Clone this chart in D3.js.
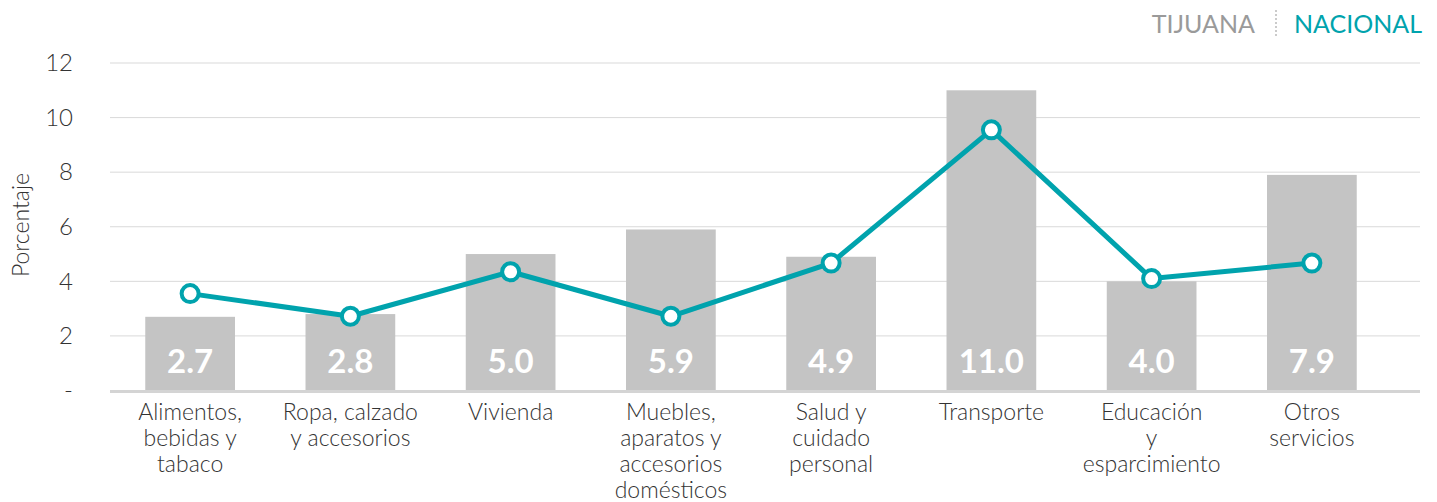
<!DOCTYPE html>
<html lang='es'>
	<head>
		<meta charset='utf-8'>
		<title>Tijuana vs Nacional</title>
		<script type='text/javascript' src='https://cdn.jsdelivr.net/npm/d3@7'></script>
		<style>
			body { margin: 0; background: #fff; font-family: Lato, sans-serif; }
		</style>
	</head>
	<body>
		<script type='text/javascript'>
			var categories = [
				['Alimentos,', 'bebidas y', 'tabaco'],
				['Ropa, calzado', 'y accesorios'],
				['Vivienda'],
				['Muebles,', 'aparatos y', 'accesorios', 'domésticos'],
				['Salud y', 'cuidado', 'personal'],
				['Transporte'],
				['Educación', 'y', 'esparcimiento'],
				['Otros', 'servicios']
			];
			var tijuana = [2.7, 2.8, 5.0, 5.9, 4.9, 11.0, 4.0, 7.9];
			var nacional = [3.55, 2.72, 4.35, 2.72, 4.67, 9.55, 4.1, 4.67];
			var yTicks = [0, 2, 4, 6, 8, 10, 12];
			var legendLabels = ['TIJUANA', 'NACIONAL'];

			var width = 1437, height = 502;
			var teal = '#00a3ad', barGray = '#c4c4c4';
			var svg = d3.select('body').append('svg').attr('width', width).attr('height', height);

			var x = d3.scaleBand().domain(d3.range(categories.length)).range([110, 1392]).paddingInner(0.44).paddingOuter(0.22);
			var y = d3.scaleLinear().domain([0, 12]).range([390.5, 63]);

			// grid lines
			svg.append('g').selectAll('line').data(yTicks.filter(d => d > 0)).enter().append('line')
				.attr('x1', 110).attr('x2', 1420)
				.attr('y1', d => y(d)).attr('y2', d => y(d))
				.attr('stroke', '#d9d9d9').attr('stroke-width', 1);

			// y axis labels
			var yAxis = d3.axisLeft(y).tickValues(yTicks).tickSize(0).tickPadding(0)
				.tickFormat(d => d === 0 ? '-' : d);
			svg.append('g').attr('transform', 'translate(73,0)').call(yAxis)
				.call(g => g.select('.domain').remove())
				.selectAll('text')
				.attr('font-family', 'Lato').attr('font-weight', 300)
				.attr('font-size', 24).attr('fill', '#333');

			svg.append('text')
				.attr('transform', 'translate(29,225) rotate(-90)')
				.attr('text-anchor', 'middle')
				.attr('font-family', 'Lato').attr('font-weight', 300)
				.attr('font-size', 23).attr('fill', '#333')
				.text('Porcentaje');

			// bars
			svg.append('g').selectAll('rect').data(tijuana).enter().append('rect')
				.attr('x', (d, i) => x(i))
				.attr('y', d => y(d))
				.attr('width', x.bandwidth())
				.attr('height', d => y(0) - y(d))
				.attr('fill', barGray);

			svg.append('g').selectAll('text').data(tijuana).enter().append('text')
				.attr('x', (d, i) => x(i) + x.bandwidth() / 2)
				.attr('y', 373)
				.attr('text-anchor', 'middle')
				.attr('font-family', 'Lato').attr('font-weight', 700)
				.attr('font-size', 33).attr('fill', '#fff')
				.text(d => d.toFixed(1));

			// baseline
			svg.append('line')
				.attr('x1', 110).attr('x2', 1420)
				.attr('y1', y(0) + 1).attr('y2', y(0) + 1)
				.attr('stroke', '#d4d4d4').attr('stroke-width', 3);

			// line series
			var line = d3.line().x((d, i) => x(i) + x.bandwidth() / 2).y(d => y(d));
			svg.append('path').datum(nacional)
				.attr('d', line)
				.attr('fill', 'none').attr('stroke', teal).attr('stroke-width', 5)
				.attr('stroke-linejoin', 'round');
			svg.append('g').selectAll('circle').data(nacional).enter().append('circle')
				.attr('cx', (d, i) => x(i) + x.bandwidth() / 2)
				.attr('cy', d => y(d))
				.attr('r', 8.5)
				.attr('fill', '#fff').attr('stroke', teal).attr('stroke-width', 4);

			// category labels
			var labels = svg.append('g').selectAll('text').data(categories).enter().append('text')
				.attr('text-anchor', 'middle')
				.attr('font-family', 'Lato').attr('font-weight', 300)
				.attr('font-size', 23).attr('fill', '#333');
			labels.selectAll('tspan').data((d, i) => d.map(t => ({ t: t, i: i }))).enter().append('tspan')
				.attr('x', d => x(d.i) + x.bandwidth() / 2)
				.attr('y', (d, j) => 420 + j * 26)
				.text(d => d.t);

			// legend
			svg.append('text').attr('x', 1255).attr('y', 33).attr('text-anchor', 'end')
				.attr('font-family', 'Lato').attr('font-size', 25).attr('fill', '#9a9a9a')
				.text(legendLabels[0]);
			svg.append('line').attr('x1', 1276).attr('x2', 1276).attr('y1', 10).attr('y2', 36)
				.attr('stroke', '#bbb').attr('stroke-width', 1.5).attr('stroke-dasharray', '2,2');
			svg.append('text').attr('x', 1294).attr('y', 33)
				.attr('font-family', 'Lato').attr('font-size', 25).attr('fill', teal)
				.text(legendLabels[1]);
		</script>
	</body>
</html>
